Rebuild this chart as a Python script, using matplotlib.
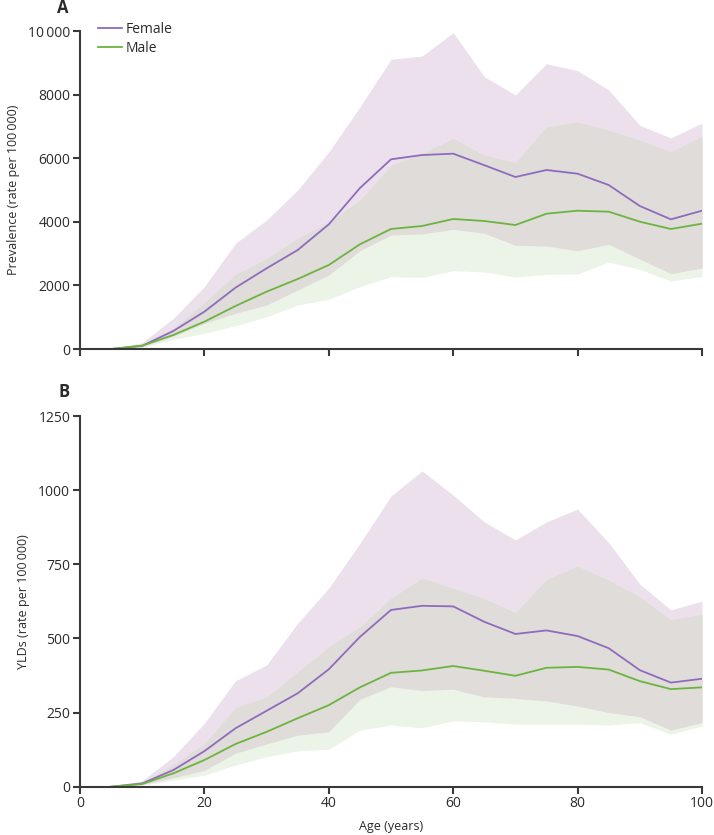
import numpy as np
import matplotlib
matplotlib.use("Agg")
import matplotlib.pyplot as plt
from matplotlib.ticker import FuncFormatter

plt.rcParams['font.family'] = ['Open Sans', 'DejaVu Sans']

ages = [5, 10, 15, 20, 25, 30, 35, 40, 45, 50, 55, 60, 65, 70, 75, 80, 85, 90, 95, 100]

# Panel A: prevalence (rate per 100 000)
prev_f = [0, 100, 566, 1174, 1929, 2537, 3113, 3920, 5060, 5965, 6100, 6142, 5780, 5409, 5629, 5513, 5157, 4497, 4078, 4349]
prev_f_lo = [0, 70, 400, 808, 1122, 1384, 1855, 2327, 3091, 3585, 3616, 3764, 3638, 3261, 3239, 3091, 3292, 2830, 2368, 2547]
prev_f_hi = [0, 200, 965, 1960, 3324, 4057, 5000, 6195, 7610, 9110, 9214, 9947, 8563, 7987, 8972, 8752, 8145, 7034, 6635, 7107]
prev_m = [0, 105, 440, 860, 1352, 1803, 2201, 2642, 3292, 3774, 3868, 4088, 4025, 3899, 4255, 4349, 4318, 4004, 3774, 3941]
prev_m_lo = [0, 50, 300, 493, 733, 1016, 1384, 1563, 1960, 2274, 2254, 2462, 2421, 2264, 2348, 2358, 2736, 2506, 2138, 2285]
prev_m_hi = [0, 150, 650, 1470, 2348, 2852, 3481, 4004, 4686, 5780, 6153, 6625, 6101, 5871, 6991, 7148, 6887, 6572, 6205, 6698]

# Panel B: YLDs (rate per 100 000)
yld_f = [0, 11, 56, 120, 197, 256, 315, 396, 505, 596, 610, 608, 556, 515, 527, 508, 467, 393, 351, 364]
yld_f_lo = [0, 7, 30, 55, 113, 144, 174, 185, 295, 337, 324, 329, 303, 298, 289, 272, 250, 236, 191, 216]
yld_f_hi = [0, 20, 101, 214, 357, 410, 551, 670, 820, 980, 1065, 983, 893, 832, 893, 936, 823, 683, 596, 626]
yld_m = [0, 9, 45, 90, 144, 185, 231, 275, 335, 384, 392, 407, 391, 374, 401, 404, 395, 356, 329, 335]
yld_m_lo = [0, 5, 22, 39, 73, 101, 121, 126, 191, 208, 199, 222, 219, 211, 211, 211, 208, 216, 177, 205]
yld_m_hi = [0, 15, 75, 146, 268, 303, 388, 472, 540, 636, 704, 669, 635, 587, 699, 744, 697, 640, 564, 582]

x_ticks = [0, 20, 40, 60, 80, 100]
prev_ticks = [0, 2000, 4000, 6000, 8000, 10000]
yld_ticks = [0, 250, 500, 750, 1000, 1250]

F_LINE = '#8f6bbd'
M_LINE = '#6cb43f'
F_FILL = '#ebe0ec'
M_FILL = '#ebf4e6'
OV_FILL = '#e0dcda'
SPINE = '#3a3a3a'
TXT = '#2b2b2b'

fig = plt.figure(figsize=(7.14, 8.35), dpi=100)
axA = fig.add_axes([80/714, (835-349)/835, 622/714, 318/835])
axB = fig.add_axes([80/714, (835-786.7)/835, 622/714, 370.7/835])


def fmt(v, pos):
    v = int(round(v))
    if v >= 10000:
        s = f"{v:,}".replace(",", "\u2009")
        return s
    return str(v)


def draw(ax, f, flo, fhi, m, mlo, mhi, ymax, yticks, ylabel, show_xlabels):
    a = np.array(ages, dtype=float)
    flo, fhi, mlo, mhi = map(np.array, (flo, fhi, mlo, mhi))
    ax.fill_between(a, flo, fhi, color=F_FILL, lw=0, zorder=1)
    ax.fill_between(a, mlo, mhi, color=M_FILL, lw=0, zorder=2)
    olo = np.maximum(flo, mlo)
    ohi = np.minimum(fhi, mhi)
    ax.fill_between(a, olo, ohi, where=ohi >= olo, interpolate=True, color=OV_FILL, lw=0, zorder=3)
    ax.plot(a, f, color=F_LINE, lw=1.3, zorder=5, label='Female')
    ax.plot(a, m, color=M_LINE, lw=1.3, zorder=5, label='Male')
    ax.set_xlim(0, 100)
    ax.set_ylim(0, ymax)
    ax.set_xticks(x_ticks)
    ax.set_yticks(yticks)
    ax.yaxis.set_major_formatter(FuncFormatter(fmt))
    for s in ['top', 'right']:
        ax.spines[s].set_visible(False)
    for s in ['left', 'bottom']:
        ax.spines[s].set_color(SPINE)
        ax.spines[s].set_linewidth(1.5)
        ax.spines[s].set_zorder(6)
    ax.tick_params(axis='both', direction='out', length=5, width=1.5, color=SPINE,
                   labelsize=10, labelcolor=TXT, pad=2)
    if not show_xlabels:
        ax.tick_params(axis='x', labelbottom=False)
    ax.set_ylabel(ylabel, fontsize=9, color=TXT, labelpad=6)


draw(axA, prev_f, prev_f_lo, prev_f_hi, prev_m, prev_m_lo, prev_m_hi, 10000, prev_ticks,
     'Prevalence (rate per 100\u2009000)', False)
draw(axB, yld_f, yld_f_lo, yld_f_hi, yld_m, yld_m_lo, yld_m_hi, 1250, yld_ticks,
     'YLDs (rate per 100\u2009000)', True)
axB.set_xlabel('Age (years)', fontsize=9, color=TXT, labelpad=6)

leg = axA.legend(loc='upper left', bbox_to_anchor=(0.02, 1.045), frameon=False, fontsize=10,
                 handlelength=1.7, handletextpad=0.3, labelspacing=0.25, borderaxespad=0)
for t in leg.get_texts():
    t.set_color(TXT)

fig.text(63/714, 1 - 8/835, 'A', fontsize=12, fontweight='bold', color=TXT, ha='center', va='center')
fig.text(64/714, 1 - 392/835, 'B', fontsize=12, fontweight='bold', color=TXT, ha='center', va='center')

fig.savefig('out.png', dpi=100)
